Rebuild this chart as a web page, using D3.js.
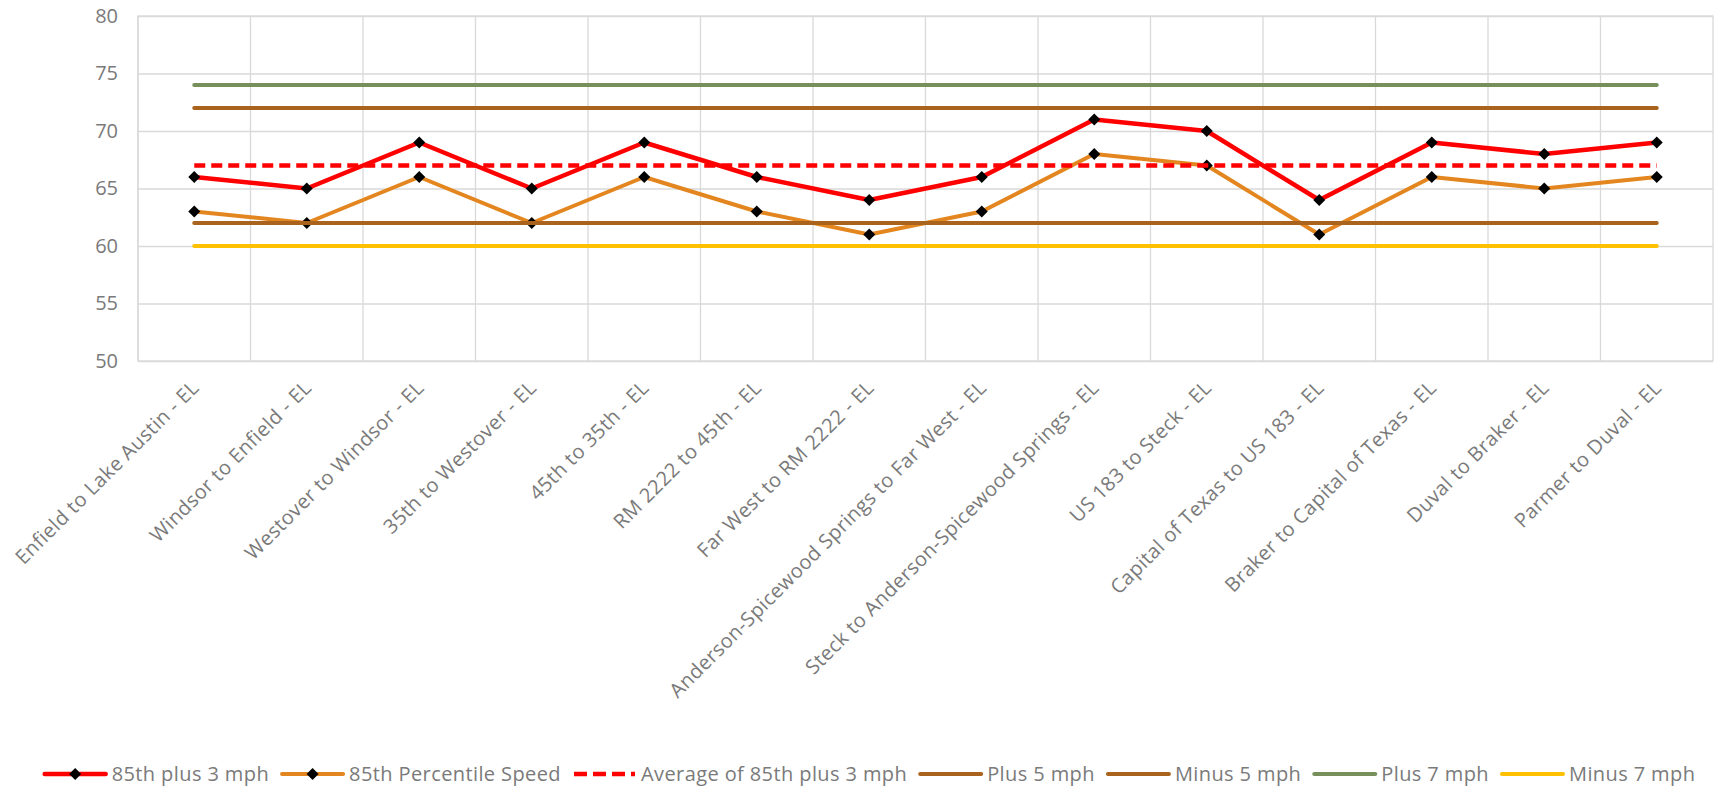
<!DOCTYPE html>
<html>
<head>
<meta charset="utf-8">
<script src="https://cdn.jsdelivr.net/npm/d3@7"></script>
<style>
    body { margin: 0; background: #fff; }
    text { font-family: "Open Sans", "DejaVu Sans", sans-serif; fill: #7a7a7a; }
</style>
</head>
<body>
<div id="speed_chart"></div>
<script>
let segments = ["Enfield to Lake Austin - EL", "Windsor to Enfield - EL", "Westover to Windsor - EL",
    "35th to Westover - EL", "45th to 35th - EL", "RM 2222 to 45th - EL", "Far West to RM 2222 - EL",
    "Anderson-Spicewood Springs to Far West - EL", "Steck to Anderson-Spicewood Springs - EL",
    "US 183 to Steck - EL", "Capital of Texas to US 183 - EL", "Braker to Capital of Texas - EL",
    "Duval to Braker - EL", "Parmer to Duval - EL"];

let plus3 = [66, 65, 69, 65, 69, 66, 64, 66, 71, 70, 64, 69, 68, 69];
let pct85 = [63, 62, 66, 62, 66, 63, 61, 63, 68, 67, 61, 66, 65, 66];
let avgPlus3 = [67, 67, 67, 67, 67, 67, 67, 67, 67, 67, 67, 67, 67, 67];
let plus5 = [72, 72, 72, 72, 72, 72, 72, 72, 72, 72, 72, 72, 72, 72];
let minus5 = [62, 62, 62, 62, 62, 62, 62, 62, 62, 62, 62, 62, 62, 62];
let plus7 = [74, 74, 74, 74, 74, 74, 74, 74, 74, 74, 74, 74, 74, 74];
let minus7 = [60, 60, 60, 60, 60, 60, 60, 60, 60, 60, 60, 60, 60, 60];

let yTicks = [50, 55, 60, 65, 70, 75, 80];

let seriesList = [
    { name: "85th plus 3 mph", values: plus3, color: "#ff0000", width: 4.5, marker: true },
    { name: "85th Percentile Speed", values: pct85, color: "#e3861f", width: 4, marker: true },
    { name: "Average of 85th plus 3 mph", values: avgPlus3, color: "#ff0000", width: 4.5, dash: "11,6" },
    { name: "Plus 5 mph", values: plus5, color: "#a9631c", width: 4 },
    { name: "Minus 5 mph", values: minus5, color: "#a9631c", width: 4 },
    { name: "Plus 7 mph", values: plus7, color: "#77905b", width: 4 },
    { name: "Minus 7 mph", values: minus7, color: "#ffc000", width: 4 }
];

let drawChart = () => {
    var width = 1726
    var height = 793
    var margin = { left: 138, top: 16, right: 13, bottom: 432 }
    var innerW = width - margin.left - margin.right
    var innerH = height - margin.top - margin.bottom

    var svg = d3.select("#speed_chart")
        .append("svg")
        .attr("width", width)
        .attr("height", height)

    var g = svg.append("g").attr("transform", `translate(${margin.left},${margin.top})`)

    var x = d3.scaleBand().domain(segments).range([0, innerW]).padding(0)
    var y = d3.scaleLinear().domain([50, 80]).range([innerH, 0])
    var cx = (c) => x(c) + x.bandwidth() / 2

    // gridlines
    var yAxis = g.append("g")
        .call(d3.axisLeft(y).tickValues(yTicks).tickSize(-innerW).tickPadding(20))
    yAxis.select(".domain").remove()
    yAxis.selectAll("line").attr("stroke", "#d9d9d9").attr("stroke-width", 1.3)
    yAxis.selectAll("text").style("font-size", "20px").attr("fill", "#7a7a7a")

    g.append("g")
        .selectAll("line")
        .data(segments)
        .enter()
        .append("line")
        .attr("x1", (d) => x(d))
        .attr("x2", (d) => x(d))
        .attr("y1", 0)
        .attr("y2", innerH)
        .attr("stroke", "#d9d9d9")
        .attr("stroke-width", 1.3)

    g.append("rect")
        .attr("width", innerW)
        .attr("height", innerH)
        .attr("fill", "none")
        .attr("stroke", "#d9d9d9")
        .attr("stroke-width", 1.3)

    // category labels
    g.append("g")
        .selectAll("text")
        .data(segments)
        .enter()
        .append("text")
        .attr("transform", (d) => `translate(${cx(d) + 6},${innerH + 28}) rotate(-45)`)
        .attr("text-anchor", "end")
        .style("font-size", "20px")
        .style("letter-spacing", "0.4px")
        .text((d) => d)

    var line = d3.line()
        .x((d, i) => cx(segments[i]))
        .y((d) => y(d))

    var diamond = d3.symbol(d3.symbolSquare, 72)

    seriesList.forEach((s) => {
        g.append("path")
            .datum(s.values)
            .attr("d", line)
            .attr("fill", "none")
            .attr("stroke", s.color)
            .attr("stroke-width", s.width)
            .attr("stroke-linejoin", "round")
            .attr("stroke-linecap", s.dash ? "butt" : "round")
            .attr("stroke-dasharray", s.dash || null)

        if (s.marker) {
            g.append("g")
                .selectAll("path")
                .data(s.values)
                .enter()
                .append("path")
                .attr("d", diamond)
                .attr("transform", (d, i) => `translate(${cx(segments[i])},${y(d)}) rotate(45)`)
                .attr("fill", "#000")
        }
    })

    // legend
    var legend = svg.append("g")
    var legendY = 774
    var lineLen = 61
    var items = legend.selectAll("g")
        .data(seriesList)
        .enter()
        .append("g")

    items.append("text")
        .attr("x", lineLen + 6)
        .attr("y", legendY)
        .attr("dy", "0.35em")
        .style("font-size", "20px")
        .style("letter-spacing", "0.4px")
        .text((d) => d.name)

    var offset = 0
    var offsets = []
    items.each(function (d) {
        offsets.push(offset)
        offset += lineLen + 6 + this.querySelector("text").getComputedTextLength() + 13
    })
    var start = 870 - (offset - 13) / 2
    items.attr("transform", (d, i) => `translate(${start + offsets[i]},0)`)

    items.append("line")
        .attr("x1", 0)
        .attr("x2", lineLen)
        .attr("y1", legendY)
        .attr("y2", legendY)
        .attr("stroke", (d) => d.color)
        .attr("stroke-width", (d) => d.width)
        .attr("stroke-linecap", (d) => d.dash ? "butt" : "round")
        .attr("stroke-dasharray", (d) => d.dash ? "13,6" : null)

    items.filter((d) => d.marker)
        .append("path")
        .attr("d", diamond)
        .attr("transform", `translate(${lineLen / 2},${legendY}) rotate(45)`)
        .attr("fill", "#000")
}

document.addEventListener("DOMContentLoaded", drawChart)
</script>
</body>
</html>
